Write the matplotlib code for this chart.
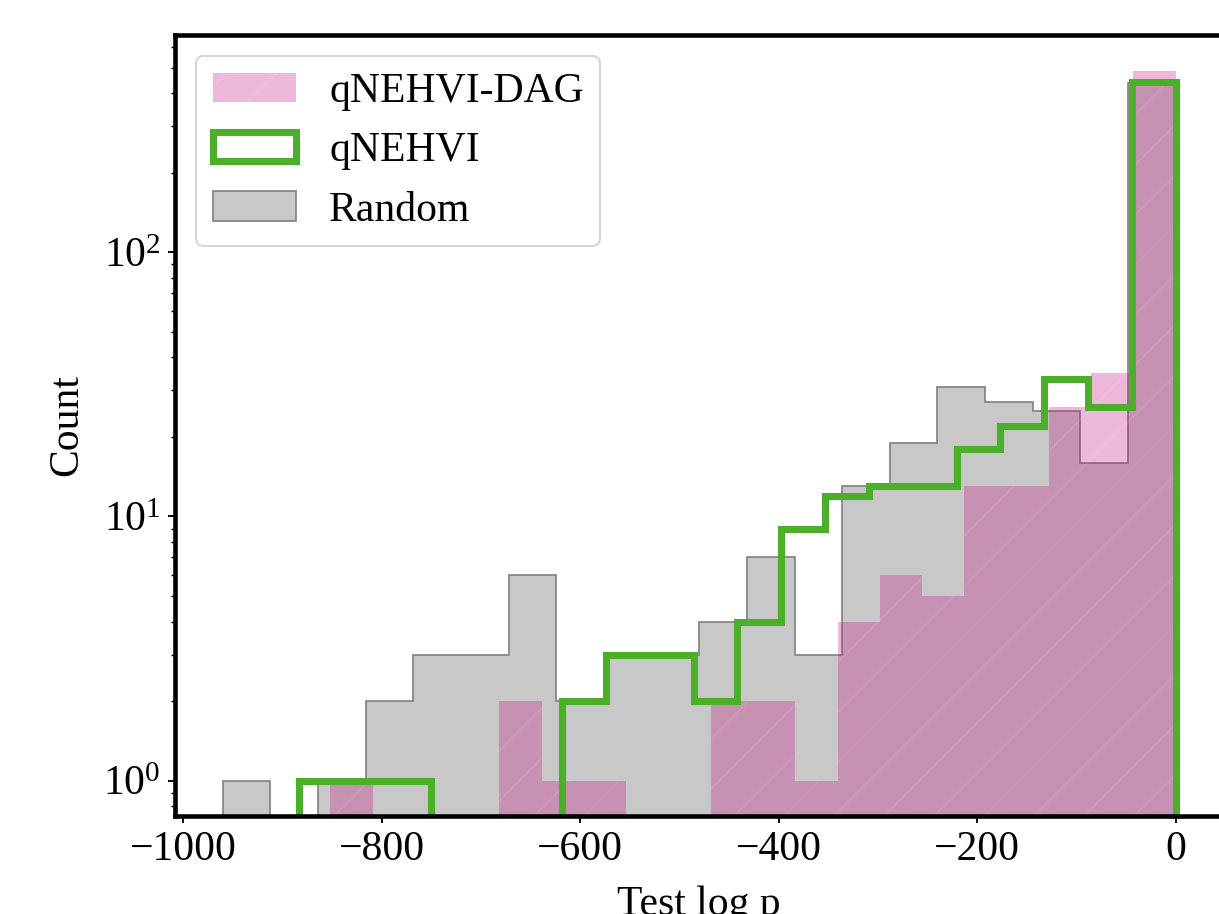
import matplotlib
matplotlib.use('Agg')
import matplotlib.pyplot as plt
import numpy as np

plt.rcParams['font.family'] = ['Liberation Serif', 'DejaVu Serif']
plt.rcParams['mathtext.fontset'] = 'stix'
plt.rcParams['font.size'] = 20
plt.rcParams['hatch.linewidth'] = 0.5

# (min, max) of each sample set, 20 bins each
dag_range = (-851.5, 0.0)
qnehvi_range = (-883.0, 0.0)
random_range = (-960.0, 0.0)

# counts per bin
dag_counts = [1, 0, 0, 0, 2, 1, 1, 0, 0, 2, 2, 1, 4, 6, 5, 13, 13, 26, 35, 487]
qnehvi_counts = [1, 1, 1, 0, 0, 0, 2, 3, 3, 2, 4, 9, 12, 13, 13, 18, 22, 33, 26, 440]
random_counts = [1, 0, 1, 2, 3, 3, 6, 2, 3, 3, 4, 7, 3, 13, 19, 31, 27, 25, 16, 438]


def bins_of(rng, n):
    edges = np.linspace(rng[0], rng[1], len(n) + 1)
    centers = (edges[:-1] + edges[1:]) / 2
    return edges, centers


fig = plt.figure(figsize=(1219.01 / 150, 914.01 / 150), dpi=150)
ax = fig.add_axes([0.14356, 0.10722, 0.86005, 0.85449])

e, c = bins_of(random_range, random_counts)
ax.hist(c, bins=e, weights=random_counts, histtype='stepfilled',
        facecolor='#c8c8c8', edgecolor='#7f7f7f', linewidth=0.8, label='Random')

e, c = bins_of(dag_range, dag_counts)
ax.hist(c, bins=e, weights=dag_counts, histtype='stepfilled',
        facecolor=(0.78, 0.08, 0.52, 0.3), edgecolor=(1, 1, 1, 0.12),
        linewidth=0, hatch='/', label='qNEHVI-DAG')

e, c = bins_of(qnehvi_range, qnehvi_counts)
ax.hist(c, bins=e, weights=qnehvi_counts, histtype='step',
        color='#4caf2a', linewidth=3.4, label='qNEHVI')

ax.set_yscale('log')
ax.set_xlim(-1008, 48)
ax.set_ylim(0.735, 664)

for s in ax.spines.values():
    s.set_linewidth(2.2)
ax.tick_params(which='major', length=3.5, width=0.9)
ax.tick_params(which='minor', length=2, width=0.7)

ax.set_xlabel('Test log p', labelpad=8)
ax.set_ylabel('Count', labelpad=8)

handles, labels = ax.get_legend_handles_labels()
order = [1, 2, 0]
ax.legend([handles[i] for i in order], [labels[i] for i in order], loc='upper left')

fig.savefig('out.png', dpi=150)
